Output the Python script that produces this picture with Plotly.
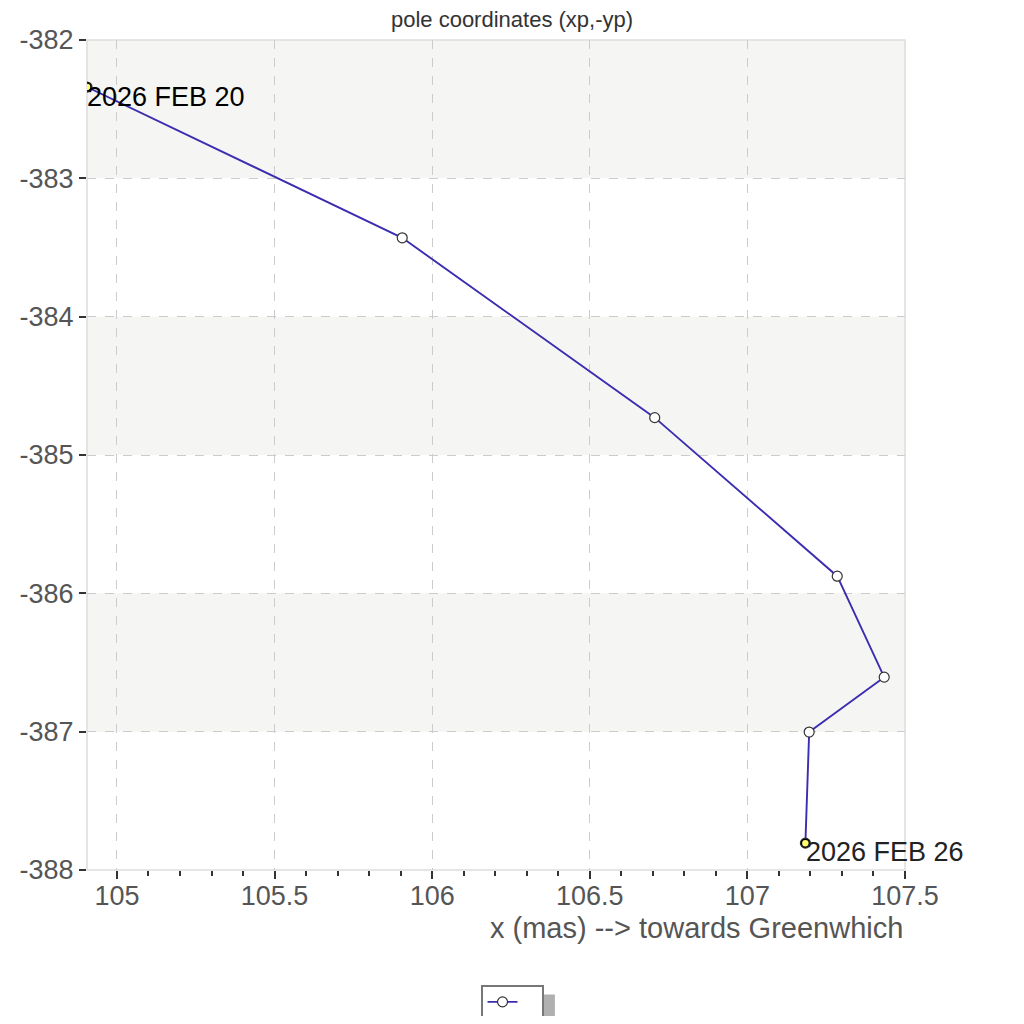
import plotly.graph_objects as go

# pole path, 2026 FEB 20 .. FEB 26
xp = [104.905, 105.905, 106.706, 107.285, 107.434, 107.196, 107.184]
neg_yp = [-382.34, -383.43, -384.73, -385.876, -386.606, -387.003, -387.806]
start_label = "2026 FEB 20"
end_label = "2026 FEB 26"
y_ticks = [-382, -383, -384, -385, -386, -387, -388]
x_ticks = [105, 105.5, 106, 106.5, 107, 107.5]

line_col = "#3b2db0"
grey_txt = "#555555"
band_col = "#f5f5f3"
font_name = "Liberation Sans"

fig = go.Figure()
fig.add_trace(go.Scatter(
    x=xp, y=neg_yp, mode="lines+markers", name="\u00a0" * 6,
    line=dict(color=line_col, width=1.9),
    marker=dict(color="white", size=10, line=dict(color="#333333", width=1.2)),
    showlegend=True))
# first and last day highlighted
fig.add_trace(go.Scatter(
    x=[xp[0], xp[-1]], y=[neg_yp[0], neg_yp[-1]], mode="markers",
    marker=dict(color="#ffff70", size=8, line=dict(color="black", width=1.5)),
    showlegend=False))

# alternating bands behind the plot
for i in range(0, len(y_ticks) - 1, 2):
    fig.add_shape(type="rect", xref="paper", yref="y", x0=0, x1=1,
                  y0=y_ticks[i + 1], y1=y_ticks[i], fillcolor=band_col,
                  line_width=0, layer="below")

# plot frame
fig.add_shape(type="rect", xref="paper", yref="paper", x0=0, x1=1, y0=0, y1=1,
              line=dict(color="#dddddd", width=1.5), layer="below")

# legend shadow
fig.add_shape(type="rect", xref="paper", yref="paper",
              x0=0.493, x1=0.572, y0=-0.184, y1=-0.15,
              fillcolor="#b0b0b0", line_width=0, layer="below")

fig.add_annotation(x=xp[0], y=neg_yp[0], text=start_label, showarrow=False,
                   xanchor="left", yanchor="middle", yshift=-10, xshift=-2,
                   font=dict(size=27, color="black"))
fig.add_annotation(x=xp[-1], y=neg_yp[-1], text=end_label, showarrow=False,
                   xanchor="left", yanchor="middle", yshift=-9, xshift=-1,
                   font=dict(size=27, color="#222222"))
# axis title, right aligned under the axis
fig.add_annotation(x=1, y=-0.07, xref="paper", yref="paper",
                   text="x (mas) --> towards Greenwhich", showarrow=False,
                   xanchor="right", yanchor="middle",
                   font=dict(size=29, color=grey_txt))

fig.update_layout(
    width=1008, height=1008,
    margin=dict(l=79, r=111, t=32, b=146, autoexpand=False),
    paper_bgcolor="white", plot_bgcolor="white",
    font=dict(family=font_name, color=grey_txt),
    title=dict(text="pole coordinates (xp,-yp)", x=0.5, xanchor="center",
               y=0.996, yanchor="top", pad=dict(t=0),
               font=dict(size=22, color="#333333")),
    legend=dict(x=0.5196, y=-0.139, xanchor="center", yanchor="top",
                bgcolor="white", bordercolor="#777777", borderwidth=2,
                itemwidth=30, font=dict(size=8)),
)

fig.update_xaxes(
    range=[104.905, 107.5], tickvals=x_ticks, ticktext=[str(v) for v in x_ticks],
    ticks="outside", ticklen=8, tickcolor="#333333", tickwidth=1.5,
    minor=dict(dtick=0.1, tick0=105, ticks="outside", ticklen=5, tickcolor="#333333",
               showgrid=False),
    showgrid=True, gridcolor="#cccccc", griddash="dash", gridwidth=1,
    zeroline=False, showline=False, ticklabelstandoff=-6,
    tickfont=dict(size=27, color=grey_txt),
)
fig.update_yaxes(
    range=[-388, -382], tickvals=y_ticks, ticktext=[str(v) for v in y_ticks],
    ticks="outside", ticklen=7, tickcolor="#333333", tickwidth=1.5,
    showgrid=True, gridcolor="#cccccc", griddash="dash", gridwidth=1,
    zeroline=False, showline=False,
    tickfont=dict(size=27, color=grey_txt),
)

fig.write_html("out.html")
